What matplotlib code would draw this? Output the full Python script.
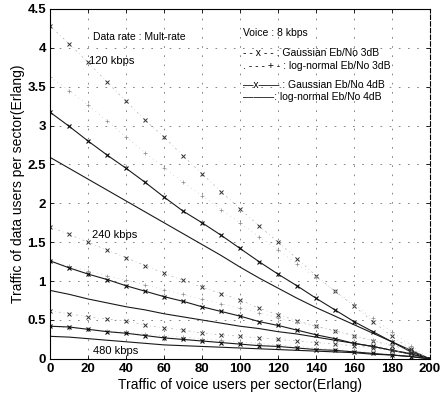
import matplotlib
matplotlib.use("Agg")
import matplotlib.pyplot as plt
import numpy as np

plt.rcParams['font.family'] = ['Liberation Sans', 'DejaVu Sans']

# voice traffic (Erlang)
voice = np.arange(0, 201, 10)

# 120 kbps
g3_120 = [4.28, 4.05, 3.81, 3.56, 3.31, 3.07, 2.85, 2.61, 2.38, 2.15, 1.93,
          1.71, 1.50, 1.29, 1.07, 0.87, 0.68, 0.48, 0.29, 0.13, 0.0]
l3_120 = [3.62, 3.45, 3.26, 3.06, 2.85, 2.65, 2.46, 2.27, 2.10, 1.92, 1.75,
          1.57, 1.40, 1.22, 1.05, 0.87, 0.70, 0.52, 0.35, 0.17, 0.0]
g4_120 = [3.17, 2.99, 2.80, 2.62, 2.45, 2.27, 2.08, 1.90, 1.75, 1.59, 1.42,
          1.25, 1.09, 0.94, 0.78, 0.63, 0.48, 0.35, 0.22, 0.09, 0.0]
l4_120 = [2.59, 2.45, 2.31, 2.17, 2.03, 1.89, 1.75, 1.61, 1.47, 1.33, 1.18,
          1.04, 0.91, 0.78, 0.66, 0.55, 0.44, 0.33, 0.22, 0.11, 0.0]

# 240 kbps
g3_240 = [1.70, 1.60, 1.50, 1.40, 1.30, 1.20, 1.10, 1.01, 0.92, 0.84, 0.76,
          0.65, 0.57, 0.49, 0.42, 0.36, 0.30, 0.23, 0.17, 0.12, 0.0]
l3_240 = [1.25, 1.19, 1.13, 1.07, 1.01, 0.95, 0.89, 0.83, 0.77, 0.71, 0.65,
          0.59, 0.53, 0.47, 0.42, 0.36, 0.30, 0.24, 0.18, 0.10, 0.0]
g4_240 = [1.26, 1.17, 1.09, 1.02, 0.94, 0.87, 0.80, 0.74, 0.67, 0.61, 0.55,
          0.48, 0.43, 0.37, 0.31, 0.26, 0.20, 0.16, 0.11, 0.07, 0.0]
l4_240 = [0.88, 0.83, 0.77, 0.72, 0.67, 0.63, 0.58, 0.54, 0.50, 0.46, 0.42,
          0.39, 0.35, 0.32, 0.28, 0.24, 0.20, 0.16, 0.11, 0.06, 0.0]

# 480 kbps
g3_480 = [0.62, 0.58, 0.54, 0.51, 0.49, 0.43, 0.40, 0.37, 0.33, 0.31, 0.29,
          0.27, 0.25, 0.23, 0.21, 0.19, 0.17, 0.14, 0.11, 0.07, 0.0]
l3_480 = [0.42, 0.40, 0.38, 0.36, 0.34, 0.32, 0.30, 0.28, 0.26, 0.24, 0.22,
          0.20, 0.18, 0.16, 0.14, 0.12, 0.10, 0.08, 0.06, 0.04, 0.0]
g4_480 = [0.42, 0.41, 0.38, 0.35, 0.33, 0.30, 0.27, 0.25, 0.23, 0.21, 0.19,
          0.17, 0.16, 0.14, 0.12, 0.11, 0.09, 0.07, 0.05, 0.03, 0.0]
l4_480 = [0.29, 0.28, 0.26, 0.24, 0.22, 0.20, 0.18, 0.17, 0.16, 0.15, 0.14,
          0.13, 0.12, 0.11, 0.10, 0.09, 0.08, 0.06, 0.05, 0.03, 0.0]

fig = plt.figure(figsize=(4.4, 4.01), dpi=100)
ax = fig.add_axes([0.114, 0.105, 0.863, 0.873])

for g3, l3, g4, l4 in [(g3_120, l3_120, g4_120, l4_120),
                       (g3_240, l3_240, g4_240, l4_240),
                       (g3_480, l3_480, g4_480, l4_480)]:
    # Gaussian 3dB : dash-dot with x
    ax.plot(voice, g3, color='0.65', lw=0.45, ls=(0, (3, 5, 1, 5)),
            marker='x', ms=3.5, mec='0.2', mew=0.7)
    # log-normal 3dB : dotted with +
    ax.plot(voice, l3, color='0.65', lw=0.45, ls=(0, (1, 6)),
            marker='+', ms=3, mec='0.55', mew=0.5)
    # Gaussian 4dB : solid with x
    ax.plot(voice, g4, color='0.1', lw=0.8, ls='-',
            marker='x', ms=3.5, mec='0.05', mew=0.8)
    # log-normal 4dB : solid
    ax.plot(voice, l4, color='0.1', lw=0.8, ls='-')

ax.set_xlim(0, 200)
ax.set_ylim(0, 4.5)
ax.set_xticks(np.arange(0, 201, 20))
ax.set_yticks([0, 0.5, 1, 1.5, 2, 2.5, 3, 3.5, 4, 4.5])
ax.set_yticklabels(['0', '0.5', '1', '1.5', '2', '2.5', '3', '3.5', '4', '4.5'])
ax.tick_params(direction='in', length=3, width=0.6, top=True, right=True,
               labelsize=9.5, pad=3)
for lab in ax.get_xticklabels() + ax.get_yticklabels():
    lab.set_fontweight('bold')
ax.grid(True, color='0.45', lw=0.6, ls=(0, (2, 9)))
ax.spines['right'].set_linestyle((0, (4, 2)))
for s in ax.spines.values():
    s.set_linewidth(0.8)

ax.set_xlabel('Traffic of voice users per sector(Erlang)', fontsize=10, labelpad=2)
ax.set_ylabel('Traffic of data users per sector(Erlang)', fontsize=10, labelpad=2)

ax.text(22.7, 4.14, 'Data rate : Mult-rate', fontsize=7.5, va='center')
ax.text(101.6, 4.19, 'Voice : 8 kbps', fontsize=7.5, va='center')
ax.text(101.6, 3.93, '- - x - - : Gaussian Eb/No 3dB', fontsize=7.5, va='center')
ax.text(101.6, 3.77, '. - - - + - : log-normal Eb/No 3dB', fontsize=7.5, va='center')
ax.text(101.6, 3.52, '\u2014x\u2014\u2014 : Gaussian Eb/No 4dB', fontsize=7.5, va='center')
ax.text(101.6, 3.37, '\u2014\u2014\u2014: log-normal Eb/No 4dB', fontsize=7.5, va='center')
ax.text(20.5, 3.83, '120 kbps', fontsize=8, va='center')
ax.text(22.0, 1.59, '240 kbps', fontsize=8, va='center')
ax.text(22.5, 0.10, '480 kbps', fontsize=8, va='center')

fig.savefig('out.png', dpi=100)
